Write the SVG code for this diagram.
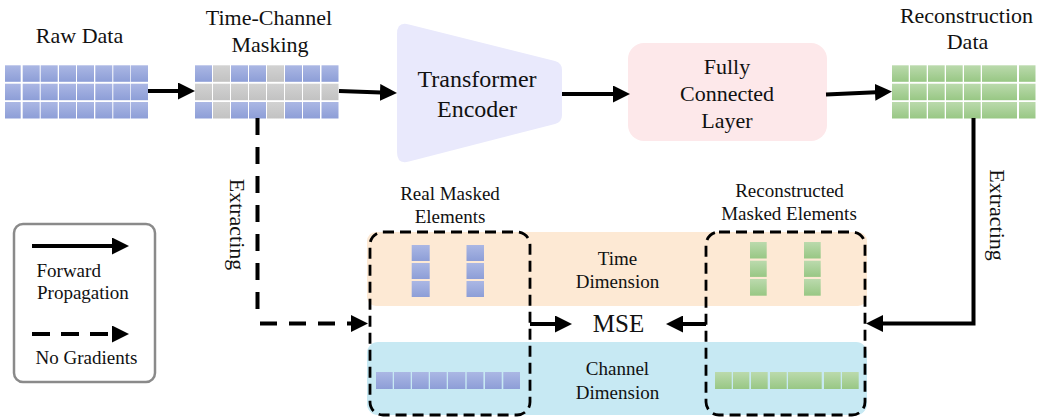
<svg xmlns="http://www.w3.org/2000/svg" width="1043" height="418" viewBox="0 0 1043 418">
<defs>
<linearGradient id="gB" x1="0" y1="0" x2="0" y2="1"><stop offset="0" stop-color="#abb7e4"/><stop offset="1" stop-color="#8d9ed7"/></linearGradient>
<linearGradient id="gG" x1="0" y1="0" x2="0" y2="1"><stop offset="0" stop-color="#d2d2d2"/><stop offset="1" stop-color="#c2c2c2"/></linearGradient>
<linearGradient id="gN" x1="0" y1="0" x2="0" y2="1"><stop offset="0" stop-color="#bbdaad"/><stop offset="1" stop-color="#98c784"/></linearGradient>
<marker id="ah" markerUnits="userSpaceOnUse" markerWidth="17" markerHeight="17" refX="1" refY="8.5" orient="auto"><path d="M0,0 L17,8.5 L0,17 z" fill="#000"/></marker>
</defs>
<style>
.t{font-family:"Liberation Serif","Times New Roman",serif;fill:#111;text-anchor:middle}
.L{font-size:22px}.S{font-size:19px}.E{font-size:24px}
.b{fill:url(#gB)}.g{fill:url(#gG)}.n{fill:url(#gN)}
.c{fill:none;stroke:#000;stroke-width:4}
.d{fill:none;stroke:#000;stroke-width:4;stroke-dasharray:17 12}
.box{fill:none;stroke:#000;stroke-width:2.8;stroke-dasharray:11 6}
</style>

<g id="raw-data">
<text class="t L" x="79.5" y="43">Raw Data</text>
<g>
<rect class="b" x="5" y="65.3" width="15.7" height="16.5"/><rect class="b" x="22.7" y="65.3" width="17" height="16.5"/><rect class="b" x="40.7" y="65.3" width="17" height="16.5"/><rect class="b" x="59" y="65.3" width="17" height="16.5"/><rect class="b" x="77" y="65.3" width="17" height="16.5"/><rect class="b" x="95.3" y="65.3" width="17" height="16.5"/><rect class="b" x="113.3" y="65.3" width="17" height="16.5"/><rect class="b" x="131" y="65.3" width="17" height="16.5"/>
<rect class="b" x="5" y="83.7" width="15.7" height="16.5"/><rect class="b" x="22.7" y="83.7" width="17" height="16.5"/><rect class="b" x="40.7" y="83.7" width="17" height="16.5"/><rect class="b" x="59" y="83.7" width="17" height="16.5"/><rect class="b" x="77" y="83.7" width="17" height="16.5"/><rect class="b" x="95.3" y="83.7" width="17" height="16.5"/><rect class="b" x="113.3" y="83.7" width="17" height="16.5"/><rect class="b" x="131" y="83.7" width="17" height="16.5"/>
<rect class="b" x="5" y="102" width="15.7" height="16.5"/><rect class="b" x="22.7" y="102" width="17" height="16.5"/><rect class="b" x="40.7" y="102" width="17" height="16.5"/><rect class="b" x="59" y="102" width="17" height="16.5"/><rect class="b" x="77" y="102" width="17" height="16.5"/><rect class="b" x="95.3" y="102" width="17" height="16.5"/><rect class="b" x="113.3" y="102" width="17" height="16.5"/><rect class="b" x="131" y="102" width="17" height="16.5"/>
</g>
</g>

<g id="time-channel-masking">
<text class="t L" x="269" y="25">Time-Channel</text>
<text class="t L" x="270" y="51.5">Masking</text>
<rect class="b" x="195" y="65.3" width="17" height="16.5"/><rect class="g" x="213" y="65.3" width="17" height="16.5"/><rect class="b" x="231" y="65.3" width="17" height="16.5"/><rect class="b" x="249" y="65.3" width="17" height="16.5"/><rect class="g" x="267" y="65.3" width="17" height="16.5"/><rect class="b" x="285" y="65.3" width="17" height="16.5"/><rect class="b" x="303" y="65.3" width="17" height="16.5"/><rect class="b" x="321.5" y="65.3" width="17" height="16.5"/>
<rect class="g" x="195" y="83.7" width="17" height="16.5"/><rect class="g" x="213" y="83.7" width="17" height="16.5"/><rect class="g" x="231" y="83.7" width="17" height="16.5"/><rect class="g" x="249" y="83.7" width="17" height="16.5"/><rect class="g" x="267" y="83.7" width="17" height="16.5"/><rect class="g" x="285" y="83.7" width="17" height="16.5"/><rect class="g" x="303" y="83.7" width="17" height="16.5"/><rect class="g" x="321.5" y="83.7" width="17" height="16.5"/>
<rect class="b" x="195" y="102" width="17" height="16.5"/><rect class="g" x="213" y="102" width="17" height="16.5"/><rect class="b" x="231" y="102" width="17" height="16.5"/><rect class="b" x="249" y="102" width="17" height="16.5"/><rect class="g" x="267" y="102" width="17" height="16.5"/><rect class="b" x="285" y="102" width="17" height="16.5"/><rect class="b" x="303" y="102" width="17" height="16.5"/><rect class="b" x="321.5" y="102" width="17" height="16.5"/>
</g>

<g id="transformer-encoder">
<path d="M397,34 Q397,21 409,24.5 L555,61 Q562,63 562,70 L562,115 Q562,122 555,124 L409,161.5 Q397,165 397,152 Z" fill="#e9e9fc"/>
<text class="t E" x="477" y="87">Transformer</text>
<text class="t E" x="477" y="117">Encoder</text>
</g>

<g id="fully-connected-layer">
<rect x="628" y="43" width="199" height="98" rx="16" fill="#fde8ea"/>
<text class="t L" x="727" y="74">Fully</text>
<text class="t L" x="727" y="101">Connected</text>
<text class="t L" x="727" y="128">Layer</text>
</g>

<g id="reconstruction-data">
<text class="t L" x="966.5" y="23">Reconstruction</text>
<text class="t L" x="967.5" y="48.5">Data</text>
<rect class="n" x="892" y="65.3" width="16.7" height="16.5"/><rect class="n" x="910" y="65.3" width="16.7" height="16.5"/><rect class="n" x="928" y="65.3" width="16.7" height="16.5"/><rect class="n" x="946" y="65.3" width="16.7" height="16.5"/><rect class="n" x="964" y="65.3" width="16.7" height="16.5"/><rect class="n" x="982" y="65.3" width="35" height="16.5"/><rect class="n" x="1019" y="65.3" width="16.5" height="16.5"/>
<rect class="n" x="892" y="83.7" width="16.7" height="16.5"/><rect class="n" x="910" y="83.7" width="16.7" height="16.5"/><rect class="n" x="928" y="83.7" width="16.7" height="16.5"/><rect class="n" x="946" y="83.7" width="16.7" height="16.5"/><rect class="n" x="964" y="83.7" width="16.7" height="16.5"/><rect class="n" x="982" y="83.7" width="35" height="16.5"/><rect class="n" x="1019" y="83.7" width="16.5" height="16.5"/>
<rect class="n" x="892" y="102" width="16.7" height="16.5"/><rect class="n" x="910" y="102" width="16.7" height="16.5"/><rect class="n" x="928" y="102" width="16.7" height="16.5"/><rect class="n" x="946" y="102" width="16.7" height="16.5"/><rect class="n" x="964" y="102" width="16.7" height="16.5"/><rect class="n" x="982" y="102" width="35" height="16.5"/><rect class="n" x="1019" y="102" width="16.5" height="16.5"/>
</g>

<g id="time-dimension">
<rect x="367" y="232" width="500" height="74" rx="9" fill="#fde9d4"/>
<text class="t S" x="617.5" y="265">Time</text>
<text class="t S" x="617.5" y="287.5">Dimension</text>
</g>

<g id="channel-dimension">
<rect x="367" y="342" width="500" height="73" rx="11" fill="#c7e9f3"/>
<text class="t S" x="617.5" y="375">Channel</text>
<text class="t S" x="617.5" y="398.5">Dimension</text>
</g>

<g id="real-masked-elements">
<text class="t S" x="450" y="200">Real Masked</text>
<text class="t S" x="450" y="222.5">Elements</text>
<rect class="b" x="411.7" y="245" width="18" height="16"/><rect class="b" x="411.7" y="263" width="18" height="16"/><rect class="b" x="411.7" y="281" width="18" height="16"/>
<rect class="b" x="466.5" y="245" width="17.5" height="16"/><rect class="b" x="466.5" y="263" width="17.5" height="16"/><rect class="b" x="466.5" y="281" width="17.5" height="16"/>
<rect class="b" x="376" y="372" width="16.7" height="17"/><rect class="b" x="394" y="372" width="16.7" height="17"/><rect class="b" x="412" y="372" width="16.7" height="17"/><rect class="b" x="430" y="372" width="16.7" height="17"/><rect class="b" x="448" y="372" width="17.3" height="17"/><rect class="b" x="466.7" y="372" width="16.7" height="17"/><rect class="b" x="485" y="372" width="16.7" height="17"/><rect class="b" x="503.3" y="372" width="16.7" height="17"/>
<rect class="box" x="370" y="232" width="160" height="183" rx="13"/>
</g>

<g id="reconstructed-masked-elements">
<text class="t S" x="789.5" y="197">Reconstructed</text>
<text class="t S" x="789" y="220">Masked Elements</text>
<rect class="n" x="750" y="242" width="16.7" height="16.5"/><rect class="n" x="750" y="260.7" width="16.7" height="16.2"/><rect class="n" x="750" y="279" width="16.7" height="16.7"/>
<rect class="n" x="804" y="242" width="16.7" height="16.5"/><rect class="n" x="804" y="260.7" width="16.7" height="16.2"/><rect class="n" x="804" y="279" width="16.7" height="16.7"/>
<rect class="n" x="715" y="372" width="16.7" height="17"/><rect class="n" x="733" y="372" width="16.3" height="17"/><rect class="n" x="751" y="372" width="16.7" height="17"/><rect class="n" x="770" y="372" width="16.7" height="17"/><rect class="n" x="788" y="372" width="33.7" height="17"/><rect class="n" x="824" y="372" width="16.7" height="17"/><rect class="n" x="842" y="372" width="16.7" height="17"/>
<rect class="box" x="706" y="232" width="159" height="183" rx="13"/>
</g>

<g id="mse">
<text class="t" style="font-size:25px" x="618.5" y="332">MSE</text>
</g>

<g id="legend">
<rect x="14" y="224" width="141" height="158" rx="9" fill="none" stroke="#8a8a8a" stroke-width="2.5"/>
<path class="c" d="M32,246 H113" marker-end="url(#ah)"/>
<text class="t S" style="text-anchor:start" x="36.5" y="276.5">Forward</text>
<text class="t S" style="text-anchor:start" x="37" y="299">Propagation</text>
<path class="d" style="stroke-dasharray:18 11" d="M32,334 H113" marker-end="url(#ah)"/>
<text class="t S" style="text-anchor:start" x="35.5" y="364">No Gradients</text>
</g>

<g id="connectors">
<path class="c" d="M148,91 H179" marker-end="url(#ah)"/>
<path class="c" d="M339,91 L381,92.5" marker-end="url(#ah)"/>
<path class="c" d="M562,94 H614" marker-end="url(#ah)"/>
<path class="c" d="M826,94.5 L876,92.2" marker-end="url(#ah)"/>
<path class="d" d="M257.5,118 V313"/>
<path class="d" d="M260,323.5 H352" marker-end="url(#ah)"/>
<text class="t L" transform="translate(229.5,224.5) rotate(90)" x="0" y="0">Extracting</text>
<path class="c" d="M973.5,118 V323.5 H882" marker-end="url(#ah)"/>
<text class="t L" transform="translate(990,215) rotate(90)" x="0" y="0">Extracting</text>
<path class="c" d="M530,324 H556" marker-end="url(#ah)"/>
<path class="c" d="M706,324 H682" marker-end="url(#ah)"/>
</g>
</svg>
